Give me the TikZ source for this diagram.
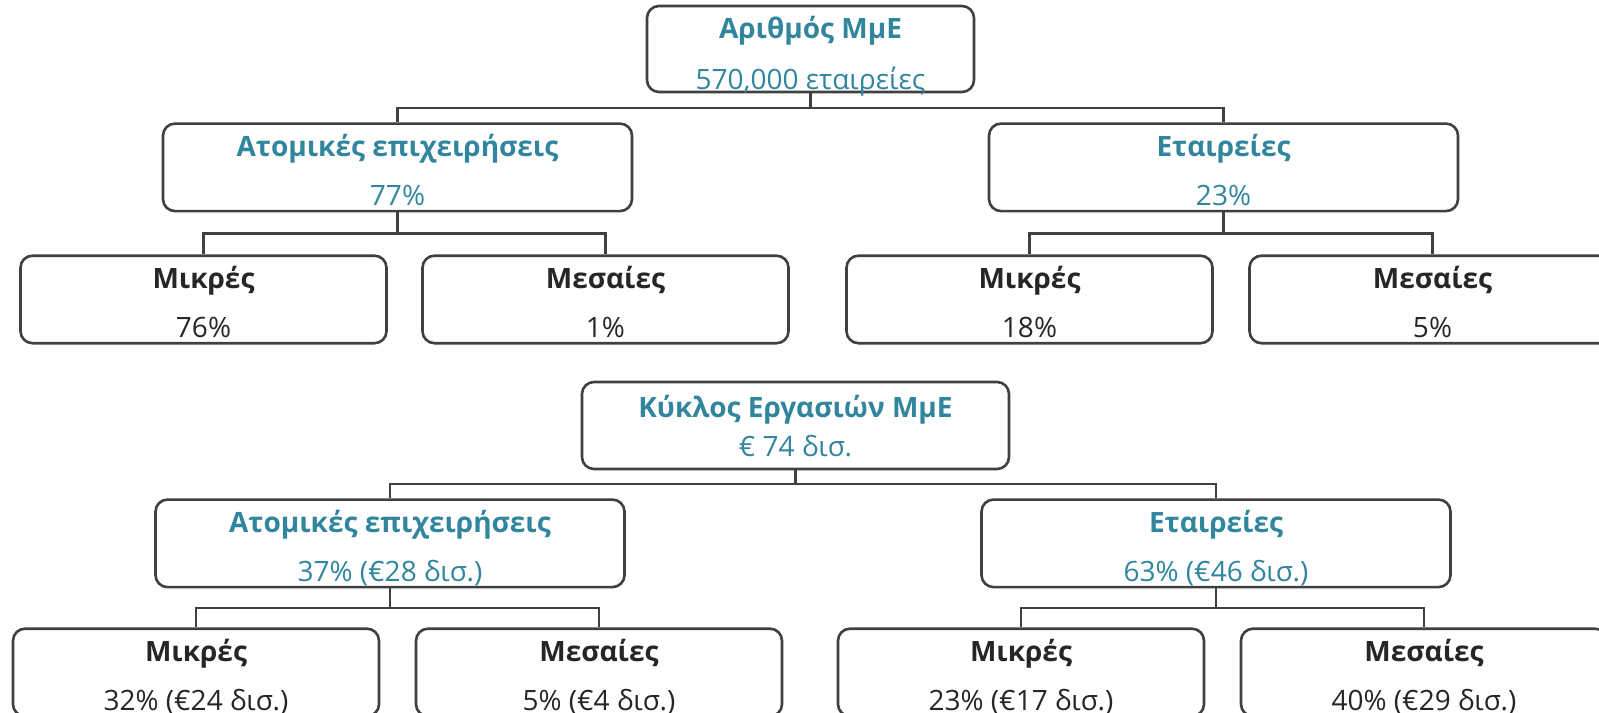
\documentclass[tikz,border=0pt]{standalone}
\usepackage{fontspec}
\setmainfont{Open Sans}
\usetikzlibrary{positioning,calc}
\definecolor{mmeteal}{RGB}{49,133,156}
\definecolor{mmeink}{RGB}{38,38,38}
\definecolor{mmeline}{RGB}{64,64,64}

\begin{document}
\begin{tikzpicture}[
  font=\fontsize{14pt}{24.5pt}\selectfont,
  box/.style={draw=mmeline,line width=1.3pt,rounded corners=6pt,
              align=center,inner sep=0pt,minimum height=43.75pt,
              text height=37.75pt,text depth=0pt},
  midbox/.style={box,minimum width=234.5pt,text=mmeteal},
  leafbox/.style={box,minimum width=183pt,text=mmeink},
  lnk/.style={mmeline,line width=1.1pt,
              to path={|- ($(\tikztostart)!.5!(\tikztotarget)$) -| (\tikztotarget)}}
]
\useasboundingbox (0,0) rectangle (799.5pt,-356pt);
\node[box,text=mmeteal,minimum width=163.5pt,minimum height=43pt,
      font=\fontsize{14pt}{25.5pt}\selectfont,text height=40pt]
      (n) at (405.25pt,-24.5pt) {\textbf{Αριθμός ΜμΕ}\\570,000 εταιρείες};
\node[midbox,below=14.5pt of n,xshift=-206.5pt] (na) {\textbf{Ατομικές επιχειρήσεις}\\77\%};
\node[midbox,below=14.5pt of n,xshift=206.5pt] (ne) {\textbf{Εταιρείες}\\23\%};
\node[leafbox,below=21pt of na,xshift=-97pt] (nam) {\textbf{Μικρές}\\76\%};
\node[leafbox,below=21pt of na,xshift=104pt] (nas) {\textbf{Μεσαίες}\\1\%};
\node[leafbox,below=21pt of ne,xshift=-97pt] (nem) {\textbf{Μικρές}\\18\%};
\node[leafbox,below=21pt of ne,xshift=104.5pt] (nes) {\textbf{Μεσαίες}\\5\%};
\draw[lnk] (n.south) to (na.north) (n.south) to (ne.north);
\draw[lnk] (na.south) to (nam.north) (na.south) to (nas.north);
\draw[lnk] (ne.south) to (nem.north) (ne.south) to (nes.north);

\node[box,text=mmeteal,minimum width=213.5pt,minimum height=43.5pt,
      font=\fontsize{14pt}{19.5pt}\selectfont,text height=30.5pt]
      (k) at (397.75pt,-212.75pt) {\textbf{Κύκλος Εργασιών ΜμΕ}\\€ 74 δισ.};
\node[midbox,below=14pt of k,xshift=-202.75pt] (ka) {\textbf{Ατομικές επιχειρήσεις}\\37\% (€28 δισ.)};
\node[midbox,below=14pt of k,xshift=210.25pt] (ke) {\textbf{Εταιρείες}\\63\% (€46 δισ.)};
\node[leafbox,below=19.5pt of ka,xshift=-97pt] (kam) {\textbf{Μικρές}\\32\% (€24 δισ.)};
\node[leafbox,below=19.5pt of ka,xshift=104.5pt] (kas) {\textbf{Μεσαίες}\\5\% (€4 δισ.)};
\node[leafbox,below=19.5pt of ke,xshift=-97.5pt] (kem) {\textbf{Μικρές}\\23\% (€17 δισ.)};
\node[leafbox,below=19.5pt of ke,xshift=104pt] (kes) {\textbf{Μεσαίες}\\40\% (€29 δισ.)};
\draw[lnk] (k.south) to (ka.north) (k.south) to (ke.north);
\draw[lnk] (ka.south) to (kam.north) (ka.south) to (kas.north);
\draw[lnk] (ke.south) to (kem.north) (ke.south) to (kes.north);
\end{tikzpicture}
\end{document}
